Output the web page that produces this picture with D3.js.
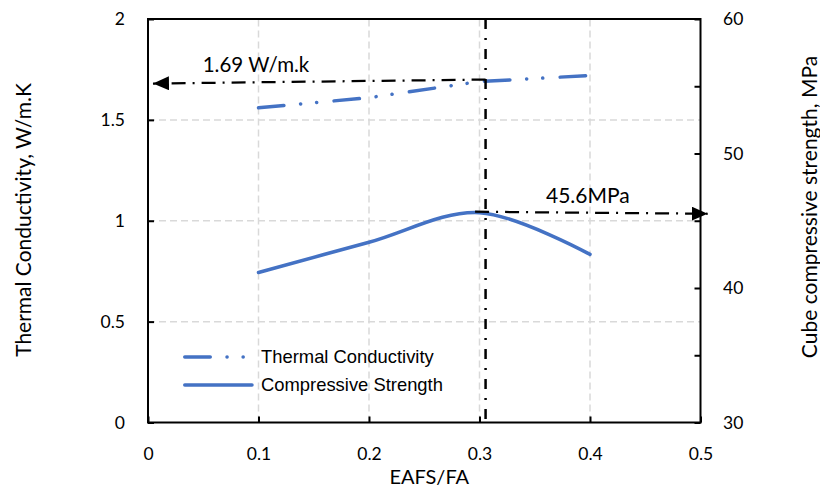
<!DOCTYPE html>
<html>
<head>
<meta charset="utf-8">
<script src="https://cdn.jsdelivr.net/npm/d3@7"></script>
<style>
  body { margin: 0; background: #fff; }
  svg { display: block; }
</style>
</head>
<body>
<svg id="chart" width="820" height="490"></svg>
<script>
// EAFS/FA ratio on the x axis
const ratios = [0.1, 0.2, 0.3, 0.4];
// Thermal conductivity, W/m.K (left axis)
const thermalConductivity = [1.56, 1.61, 1.69, 1.72];
// Cube compressive strength, MPa (right axis)
const compressiveStrength = [41.15, 43.4, 45.6, 42.5];

const xTicks = [0, 0.1, 0.2, 0.3, 0.4, 0.5];
const leftTicks = [0, 0.5, 1, 1.5, 2];
const rightTicks = [30, 35, 40, 45, 50, 55, 60];
const seriesNames = ["Thermal Conductivity", "Compressive Strength"];

// Optimum-ratio guide and its two read-outs
const optimumRatio = [0.3055];
const thermalNote = ["1.69 W/m.k"];
const thermalArrowX = [0.3055, 0.0045];
const thermalArrowY = [1.70, 1.68];
const strengthNote = ["45.6MPa"];
const strengthArrowX = [0.296, 0.5065];
const strengthArrowY = [45.67, 45.52];

const W = 820, H = 490;
const margin = { top: 19, right: 119.5, bottom: 67.5, left: 148 };
const svg = d3.select("#chart");

const x = d3.scaleLinear().domain([0, 0.5]).range([margin.left, W - margin.right]);
const yL = d3.scaleLinear().domain([0, 2]).range([H - margin.bottom, margin.top]);
const yR = d3.scaleLinear().domain([30, 60]).range([H - margin.bottom, margin.top]);

const tickFont = "Lato, 'Open Sans', sans-serif";
const legendFont = "'Liberation Sans', Arial, sans-serif";
const blue = "#4472C4";

// Gridlines
const grid = svg.append("g").attr("stroke", "#d9d9d9").attr("stroke-width", 1.5)
  .attr("stroke-dasharray", "7,4").attr("fill", "none");
grid.selectAll("line.v").data(xTicks.slice(1, -1)).join("line").attr("class", "v")
  .attr("x1", d => x(d)).attr("x2", d => x(d))
  .attr("y1", yL(0)).attr("y2", yL(2));
grid.selectAll("line.h").data(leftTicks.slice(1, -1)).join("line").attr("class", "h")
  .attr("x1", x(0)).attr("x2", x(0.5))
  .attr("y1", d => yL(d)).attr("y2", d => yL(d));

// Axes (ticks point inward)
function styleAxis(g) {
  g.select(".domain").remove();
  g.selectAll(".tick line").attr("stroke", "#000").attr("stroke-width", 2);
  g.selectAll(".tick text").attr("font-family", tickFont).attr("font-size", 17.5).attr("fill", "#000");
}
svg.append("g").attr("transform", `translate(0,${yL(0)})`)
  .call(d3.axisBottom(x).tickValues(xTicks).tickFormat(d3.format("")).tickSizeInner(-6).tickSizeOuter(0).tickPadding(25))
  .call(styleAxis);
svg.append("g").attr("transform", `translate(${x(0)},0)`)
  .call(d3.axisLeft(yL).tickValues(leftTicks).tickFormat(d3.format("")).tickSizeInner(-6).tickSizeOuter(0).tickPadding(23))
  .call(styleAxis);
svg.append("g").attr("transform", `translate(${x(0.5)},0)`)
  .call(d3.axisRight(yR).tickValues(rightTicks).tickFormat(d => d % 10 === 0 ? d : "").tickSizeInner(-6).tickSizeOuter(0).tickPadding(22.5))
  .call(styleAxis);

// Plot frame
svg.append("rect")
  .attr("x", x(0)).attr("y", yL(2))
  .attr("width", x(0.5) - x(0)).attr("height", yL(0) - yL(2))
  .attr("fill", "none").attr("stroke", "#000").attr("stroke-width", 2);

// Axis titles
const titleSize = 21;
svg.append("text").attr("x", (x(0) + x(0.5)) / 2 + 5).attr("y", 484)
  .attr("text-anchor", "middle").attr("font-family", tickFont).attr("font-size", 20)
  .text("EAFS/FA");
svg.append("text").attr("transform", `translate(31,220) rotate(-90)`)
  .attr("text-anchor", "middle").attr("font-family", tickFont).attr("font-size", titleSize)
  .text("Thermal Conductivity, W/m.K");
svg.append("text").attr("transform", `translate(817,207) rotate(-90)`)
  .attr("text-anchor", "middle").attr("font-family", tickFont).attr("font-size", titleSize)
  .text("Cube compressive strength, MPa");

// Series
const thermalDash = "25.5,16.75,0.1,16,0.1,17.4";
const thermalLine = d3.line().x(d => x(d[0])).y(d => yL(d[1]));
svg.append("path")
  .datum(ratios.map((r, i) => [r, thermalConductivity[i]]))
  .attr("d", thermalLine)
  .attr("fill", "none").attr("stroke", blue).attr("stroke-width", 3.5)
  .attr("stroke-linecap", "round").attr("stroke-dasharray", thermalDash);

const strengthLine = d3.line().x(d => x(d[0])).y(d => yR(d[1])).curve(d3.curveCardinal.tension(0));
svg.append("path")
  .datum(ratios.map((r, i) => [r, compressiveStrength[i]]))
  .attr("d", strengthLine)
  .attr("fill", "none").attr("stroke", blue).attr("stroke-width", 3.5)
  .attr("stroke-linecap", "round");

// Arrowhead
svg.append("defs").append("marker")
  .attr("id", "arrow").attr("markerUnits", "userSpaceOnUse")
  .attr("viewBox", "0 0 16 14").attr("refX", 16).attr("refY", 7)
  .attr("markerWidth", 16).attr("markerHeight", 14).attr("orient", "auto")
  .append("path").attr("d", "M0,0L16,7L0,14Z").attr("fill", "#000");

// Optimum guide line
svg.append("line")
  .attr("x1", x(optimumRatio[0])).attr("x2", x(optimumRatio[0]))
  .attr("y1", yL(2)).attr("y2", yL(0))
  .attr("stroke", "#000").attr("stroke-width", 2.5).attr("stroke-dasharray", "10,9,2,9");

// Read-out arrows
svg.append("line")
  .attr("x1", x(thermalArrowX[0])).attr("y1", yL(thermalArrowY[0]))
  .attr("x2", x(thermalArrowX[1])).attr("y2", yL(thermalArrowY[1]))
  .attr("stroke", "#000").attr("stroke-width", 2.25).attr("stroke-dasharray", "14,7,2,7")
  .attr("marker-end", "url(#arrow)");
svg.append("line")
  .attr("x1", x(strengthArrowX[0])).attr("y1", yR(strengthArrowY[0]))
  .attr("x2", x(strengthArrowX[1])).attr("y2", yR(strengthArrowY[1]))
  .attr("stroke", "#000").attr("stroke-width", 2.25).attr("stroke-dasharray", "14,7,2,7")
  .attr("marker-end", "url(#arrow)");

svg.append("text").attr("x", 256).attr("y", 72).attr("text-anchor", "middle")
  .attr("font-family", tickFont).attr("font-size", 20.5).text(thermalNote[0]);
svg.append("text").attr("x", 546).attr("y", 203)
  .attr("font-family", tickFont).attr("font-size", 21).text(strengthNote[0]);

// Legend
const legend = svg.append("g");
const legendRows = [
  { name: seriesNames[0], dash: thermalDash, y: 357, x2: 246 },
  { name: seriesNames[1], dash: null, y: 385, x2: 252 }
];
legendRows.forEach(r => {
  legend.append("line")
    .attr("x1", 184.75).attr("x2", r.x2).attr("y1", r.y).attr("y2", r.y)
    .attr("stroke", blue).attr("stroke-width", 3.5).attr("stroke-linecap", "round")
    .attr("stroke-dasharray", r.dash);
  legend.append("text").attr("x", 261).attr("y", r.y).attr("dy", "0.35em")
    .attr("font-family", legendFont).attr("font-size", 18.4).text(r.name);
});
</script>
</body>
</html>
